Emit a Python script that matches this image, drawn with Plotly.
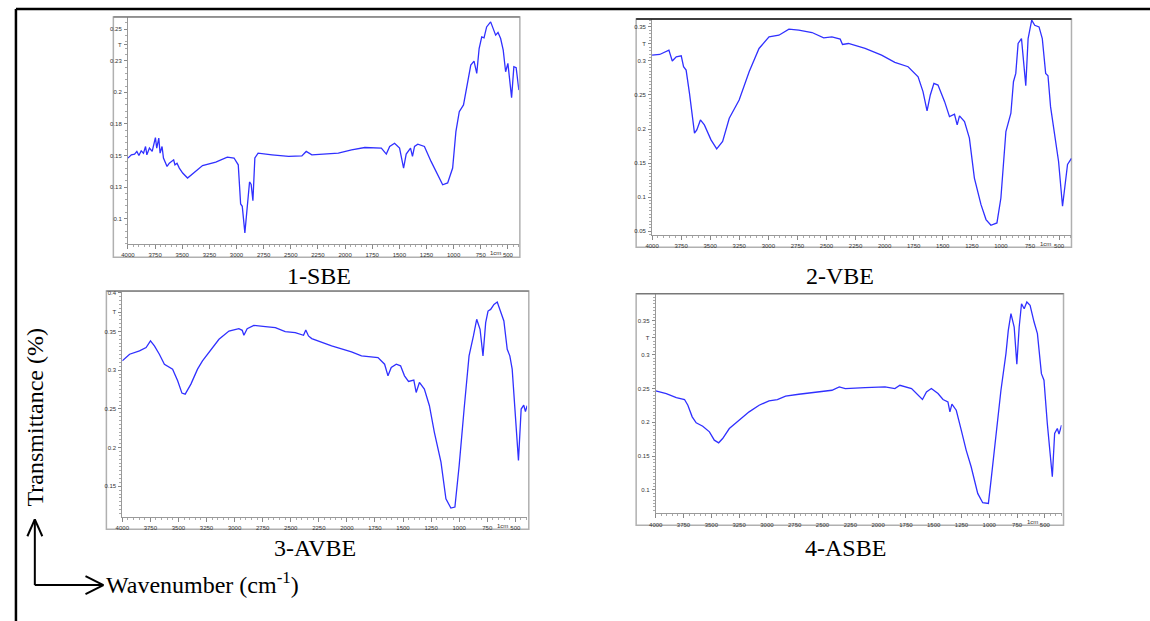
import plotly.graph_objects as go

# ---------------- data ----------------
sbe_wn = [4000, 3969, 3939, 3918, 3899, 3878, 3857, 3838, 3826, 3802, 3777, 3756, 3747, 3735, 3716,
          3704, 3686, 3673, 3655, 3640, 3619, 3594, 3579, 3567, 3548, 3527, 3496, 3451, 3313, 3191,
          3085, 3023, 2984, 2962, 2947, 2923, 2901, 2880, 2865, 2849, 2831, 2801, 2673, 2520, 2398,
          2358, 2306, 2062, 1940, 1818, 1666, 1620, 1589, 1544, 1498, 1461, 1437, 1397, 1379, 1360,
          1330, 1269, 1208, 1147, 1101, 1055, 1009, 979, 948, 909, 872, 842, 812, 787, 765, 741, 720,
          696, 659, 634, 613, 591, 567, 543, 521, 500, 482, 466, 445, 424, 399]
sbe_t = [0.1479, 0.1505, 0.1511, 0.1532, 0.1500, 0.1537, 0.1518, 0.1571, 0.1505, 0.1558, 0.1532,
         0.1624, 0.1642, 0.1558, 0.1637, 0.1518, 0.1571, 0.1479, 0.1439, 0.1413, 0.1439, 0.1453,
         0.1466, 0.1426, 0.1439, 0.1400, 0.1361, 0.1321, 0.1420, 0.1447, 0.1487, 0.1480, 0.1426,
         0.1116, 0.1097, 0.0887, 0.1084, 0.1290, 0.1270, 0.1142, 0.1480, 0.1518, 0.1505, 0.1492,
         0.1497, 0.1532, 0.1505, 0.1518, 0.1545, 0.1563, 0.1558, 0.1511, 0.1571, 0.1597, 0.1558,
         0.1400, 0.1511, 0.1558, 0.1492, 0.1571, 0.1589, 0.1571, 0.1453, 0.1347, 0.1268, 0.1282,
         0.1400, 0.1689, 0.1847, 0.1900, 0.2058, 0.2216, 0.2247, 0.2150, 0.2347, 0.2439, 0.2432,
         0.2518, 0.2558, 0.2505, 0.2453, 0.2474, 0.2426, 0.2334, 0.2163, 0.2229, 0.2084, 0.1958,
         0.2203, 0.2195, 0.2018]

vbe_wn = [4000, 3934, 3855, 3826, 3792, 3749, 3729, 3707, 3678, 3655, 3635, 3615, 3584, 3550, 3493,
          3444, 3393, 3336, 3251, 3165, 3080, 2994, 2909, 2823, 2738, 2624, 2524, 2453, 2382, 2362,
          2311, 2168, 2026, 1912, 1798, 1712, 1670, 1635, 1607, 1576, 1541, 1484, 1442, 1399, 1376,
          1356, 1313, 1271, 1228, 1171, 1128, 1086, 1034, 1000, 957, 914, 892, 872, 852, 823, 806,
          786, 766, 735, 709, 672, 644, 615, 595, 573, 504, 470, 427, 393]
vbe_t = [0.3085, 0.3095, 0.3159, 0.2998, 0.3061, 0.3076, 0.2915, 0.2866, 0.2524, 0.2183, 0.1939,
         0.1988, 0.2134, 0.2061, 0.1841, 0.1710, 0.1817, 0.2159, 0.2427, 0.2841, 0.3183, 0.3354,
         0.3378, 0.3466, 0.3451, 0.3417, 0.3339, 0.3354, 0.3320, 0.3241, 0.3256, 0.3183, 0.3085,
         0.2978, 0.2915, 0.2768, 0.2549, 0.2266, 0.2500, 0.2671, 0.2646, 0.2402, 0.2183, 0.2217,
         0.2061, 0.2193, 0.2109, 0.1866, 0.1280, 0.0890, 0.0671, 0.0588, 0.0622, 0.0988, 0.1963,
         0.2232, 0.2695, 0.2817, 0.3256, 0.3329, 0.3037, 0.2637, 0.3329, 0.3598, 0.3524, 0.3500,
         0.3329, 0.2817, 0.2783, 0.2329, 0.1524, 0.0866, 0.1480, 0.1570]

avbe_wn = [4000, 3935, 3847, 3788, 3749, 3714, 3670, 3625, 3552, 3507, 3469, 3440, 3389, 3330, 3286,
           3227, 3139, 3050, 2962, 2932, 2917, 2888, 2829, 2726, 2637, 2549, 2460, 2386, 2366, 2342,
           2313, 2136, 1959, 1870, 1723, 1664, 1634, 1605, 1560, 1522, 1487, 1451, 1404, 1383, 1354,
           1310, 1265, 1221, 1162, 1118, 1074, 1038, 1000, 956, 912, 873, 844, 814, 788, 764, 743,
           720, 690, 661, 631, 602, 572, 549, 528, 498, 472, 448, 425, 410, 395]
avbe_t = [0.3120, 0.3206, 0.3249, 0.3292, 0.3378, 0.3313, 0.3206, 0.3077, 0.3013, 0.2863, 0.2704,
          0.2691, 0.2820, 0.3013, 0.3120, 0.3227, 0.3399, 0.3506, 0.3536, 0.3515, 0.3451, 0.3536,
          0.3579, 0.3562, 0.3549, 0.3498, 0.3485, 0.3451, 0.3519, 0.3442, 0.3408, 0.3313, 0.3236,
          0.3185, 0.3163, 0.3077, 0.2927, 0.3034, 0.3077, 0.3056, 0.2927, 0.2854, 0.2871, 0.2712,
          0.2841, 0.2755, 0.2541, 0.2197, 0.1811, 0.1339, 0.1219, 0.1232, 0.1768, 0.2498, 0.3185,
          0.3442, 0.3657, 0.3528, 0.3185, 0.3614, 0.3764, 0.3785, 0.3850, 0.3880, 0.3764, 0.3635,
          0.3270, 0.3185, 0.3013, 0.2369, 0.1833, 0.2498, 0.2549, 0.2464, 0.2540]

asbe_wn = [4000, 3905, 3815, 3741, 3711, 3672, 3636, 3577, 3517, 3473, 3434, 3398, 3338, 3249, 3160,
           3070, 2981, 2906, 2832, 2713, 2564, 2415, 2349, 2295, 2117, 1938, 1849, 1804, 1699, 1640,
           1601, 1565, 1521, 1461, 1416, 1372, 1354, 1336, 1297, 1252, 1208, 1163, 1104, 1059, 1008,
           984, 940, 895, 850, 829, 805, 776, 752, 731, 710, 686, 662, 633, 597, 567, 531, 508, 478,
           454, 433, 412, 388, 373, 358, 350]
asbe_t = [0.2464, 0.2424, 0.2365, 0.2336, 0.2252, 0.2080, 0.1991, 0.1942, 0.1858, 0.1735, 0.1696,
          0.1760, 0.1907, 0.2031, 0.2154, 0.2252, 0.2316, 0.2336, 0.2385, 0.2414, 0.2449, 0.2473,
          0.2523, 0.2498, 0.2513, 0.2523, 0.2498, 0.2547, 0.2498, 0.2400, 0.2336, 0.2449, 0.2498,
          0.2424, 0.2336, 0.2301, 0.2154, 0.2267, 0.2178, 0.1883, 0.1588, 0.1342, 0.0948, 0.0810,
          0.0800, 0.1145, 0.1834, 0.2473, 0.3015, 0.3359, 0.3605, 0.3408, 0.2857, 0.3408, 0.3753,
          0.3679, 0.3778, 0.3728, 0.3482, 0.3310, 0.2719, 0.2621, 0.1981, 0.1489, 0.1194, 0.1834,
          0.1907, 0.1824, 0.1932, 0.1957]

x_ticks = [4000, 3750, 3500, 3250, 3000, 2750, 2500, 2250, 2000, 1750, 1500, 1250, 1000, 750, 500]
x_tick_text = [str(v) for v in x_ticks]

y1_ticks = [0.1, 0.125, 0.15, 0.175, 0.2, 0.225, 0.2375, 0.25]
y1_text = ["0.1", "0.13", "0.15", "0.18", "0.2", "0.23", "T", "0.25"]
y2_ticks = [0.05, 0.1, 0.15, 0.2, 0.25, 0.3, 0.325, 0.35]
y2_text = ["0.05", "0.1", "0.15", "0.2", "0.25", "0.3", "T", "0.35"]
y3_ticks = [0.15, 0.2, 0.25, 0.3, 0.35, 0.375, 0.4]
y3_text = ["0.15", "0.2", "0.25", "0.3", "0.35", "T", "0.4"]
y4_ticks = [0.1, 0.15, 0.2, 0.25, 0.3, 0.325, 0.35]
y4_text = ["0.1", "0.15", "0.2", "0.25", "0.3", "T", "0.35"]

captions = ["1-SBE", "2-VBE", "3-AVBE", "4-ASBE"]

# ---------------- layout helpers ----------------
W, H = 1150, 621
def px(x): return x / W
def py(y): return 1 - y / H

LINE = "#3030ff"
TICKFONT = dict(family="Liberation Sans, Arial", size=6, color="#333")
SERIF = dict(family="Liberation Serif, Times New Roman", size=24, color="black")

panels = [
    (sbe_wn, sbe_t, (121.7, 515), (15, 243), [4000, 399], [0.0797, 0.2597], y1_ticks, y1_text, (107, 15, 516, 256)),
    (vbe_wn, vbe_t, (649, 1071), (17.3, 234), [4000, 393], [0.0441, 0.3612], y2_ticks, y2_text, (633, 17, 1071, 246)),
    (avbe_wn, avbe_t, (116, 523.3), (291, 516.7), [4000, 395], [0.1103, 0.4009], y3_ticks, y3_text, (100, 290, 525, 529)),
    (asbe_wn, asbe_t, (652.7, 1061), (292.7, 513), [4000, 350], [0.0653, 0.39], y4_ticks, y4_text, (633, 292.7, 1063, 525)),
]

fig = go.Figure()
shapes = []
annotations = []
layout_axes = {}

for i, (wn, t, xd, yd, xr, yr, yt, ytxt, fr) in enumerate(panels, start=1):
    xa = "x" if i == 1 else f"x{i}"
    ya = "y" if i == 1 else f"y{i}"
    fig.add_trace(go.Scatter(x=wn, y=t, mode="lines", line=dict(color=LINE, width=1.3),
                             xaxis=xa, yaxis=ya, showlegend=False, hoverinfo="skip"))
    xkey = "xaxis" if i == 1 else f"xaxis{i}"
    ykey = "yaxis" if i == 1 else f"yaxis{i}"
    layout_axes[xkey] = dict(
        domain=[px(xd[0]), px(xd[1])], anchor=ya, range=xr, autorange=False,
        tickmode="array", tickvals=x_ticks, ticktext=x_tick_text,
        ticks="outside", ticklen=4, tickcolor="#888", tickwidth=1,
        minor=dict(tickmode="linear", tick0=0, dtick=50, ticks="outside", ticklen=2, tickcolor="#aaa"),
        showline=True, linecolor="#999", linewidth=1, showgrid=False, zeroline=False,
        tickfont=TICKFONT, ticklabelstandoff=1)
    layout_axes[ykey] = dict(
        domain=[py(yd[1]), py(yd[0])], anchor=xa, range=yr, autorange=False,
        tickmode="array", tickvals=yt, ticktext=ytxt,
        ticks="outside", ticklen=3, tickcolor="#888", tickwidth=1,
        minor=dict(tickmode="linear", tick0=0, dtick=0.005, ticks="outside", ticklen=2, tickcolor="#aaa"),
        showline=True, linecolor="#999", linewidth=1, showgrid=False, zeroline=False,
        tickfont=TICKFONT, ticklabelstandoff=1)
    shapes.append(dict(type="rect", xref="paper", yref="paper",
                       x0=px(fr[0]), x1=px(fr[2]), y0=py(fr[3]), y1=py(fr[1]),
                       line=dict(color="#b0b0b0", width=1.5), layer="below"))
    shapes.append(dict(type="line", xref="paper", yref="paper",
                       x0=px(fr[0]), x1=px(fr[2]), y0=py(fr[1]), y1=py(fr[1]),
                       line=dict(color="#111" if i == 2 else "#666", width=1.5 if i == 2 else 1)))
    annotations.append(dict(x=615, y=py(yd[1] + 9), xref=xa, yref="paper", text="1cm",
                            showarrow=False, font=TICKFONT, xanchor="center", yanchor="middle"))

fig.update_layout(**layout_axes)

cap_pos = [(314, 275), (838, 275), (310, 548), (844, 548)]
for txt, (cx, cy) in zip(captions, cap_pos):
    annotations.append(dict(x=px(cx), y=py(cy), xref="paper", yref="paper", text=txt, showarrow=False,
                            font=SERIF, xanchor="center", yanchor="middle"))

annotations.append(dict(x=px(28), y=py(417), xref="paper", yref="paper", text="Transmittance (%)",
                        textangle=-90, showarrow=False, font=SERIF,
                        xanchor="center", yanchor="middle"))
annotations.append(dict(x=px(98), y=py(583), xref="paper", yref="paper",
                        text="Wavenumber (cm<sup>-1</sup>)", showarrow=False, font=SERIF,
                        xanchor="left", yanchor="middle"))

def seg(x0, y0, x1, y1, w=2, c="black"):
    return dict(type="line", xref="paper", yref="paper", x0=px(x0), y0=py(y0), x1=px(x1), y1=py(y1),
                line=dict(color=c, width=w))

shapes += [seg(28, 585, 28, 519), seg(28, 585, 97, 585),
           seg(28, 519, 20.5, 536), seg(28, 519, 35.5, 536),
           seg(97, 585, 79, 576), seg(97, 585, 79, 594)]

shapes += [seg(9, 7, 1150, 7, w=2.5), seg(9, 7, 9, 621, w=2.5)]

fig.update_layout(width=W, height=H, autosize=False, margin=dict(l=0, r=0, t=0, b=0),
                  paper_bgcolor="white", plot_bgcolor="white",
                  shapes=shapes, annotations=annotations, showlegend=False)

fig.write_html("out.html", config={"displayModeBar": False})

with open("out.html", "r", encoding="utf-8") as f:
    html = f.read()
html = html.replace("<head>", "<head><style>html,body{margin:0;padding:0;overflow:hidden;}</style>", 1)
with open("out.html", "w", encoding="utf-8") as f:
    f.write(html)
